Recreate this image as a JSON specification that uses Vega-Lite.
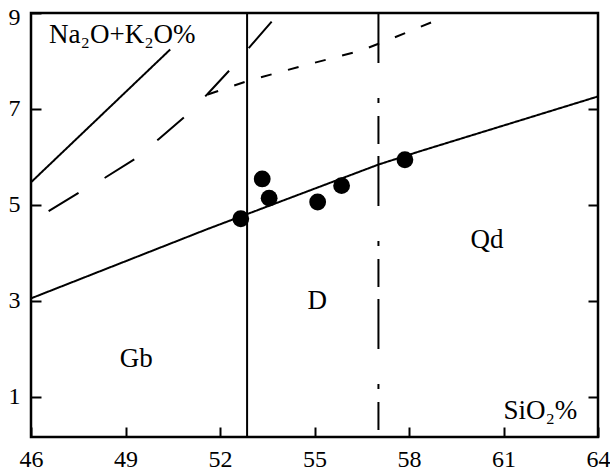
{
  "$schema": "https://vega.github.io/schema/vega-lite/v6.json",
  "width": 567,
  "height": 424,
  "autosize": {"type": "none"},
  "padding": {"left": 31, "top": 13, "right": 12, "bottom": 33},
  "background": "white",
  "config": {
    "view": {"stroke": "black", "strokeWidth": 2.5},
    "font": "Liberation Serif"
  },
  "datasets": {
    "lines": [
      {"id": "alk", "ord": 1, "x": 46.0, "y": 3.05},
      {"id": "alk", "ord": 2, "x": 51.58, "y": 4.49},
      {"id": "alk", "ord": 3, "x": 57.03, "y": 5.84},
      {"id": "alk", "ord": 4, "x": 58.36, "y": 6.12},
      {"id": "alk", "ord": 5, "x": 64.0, "y": 7.26},
      {"id": "up", "ord": 1, "x": 46.0, "y": 5.47},
      {"id": "up", "ord": 2, "x": 50.42, "y": 8.24},
      {"id": "ld", "ord": 1, "x": 46.56, "y": 4.87},
      {"id": "ld", "ord": 2, "x": 47.51, "y": 5.25},
      {"id": "ld", "ord": 3, "x": 48.36, "y": 5.57},
      {"id": "ld", "ord": 4, "x": 49.31, "y": 5.96},
      {"id": "ld", "ord": 5, "x": 50.05, "y": 6.37},
      {"id": "ld", "ord": 6, "x": 50.9, "y": 6.85},
      {"id": "ld", "ord": 7, "x": 51.59, "y": 7.3},
      {"id": "ld", "ord": 8, "x": 52.38, "y": 7.86},
      {"id": "ld", "ord": 9, "x": 53.02, "y": 8.35},
      {"id": "ld", "ord": 10, "x": 53.76, "y": 8.91},
      {"id": "ld", "ord": 11, "x": 53.85, "y": 9.0},
      {"id": "sd", "ord": 1, "x": 51.61, "y": 7.3},
      {"id": "sd", "ord": 2, "x": 52.86, "y": 7.58},
      {"id": "sd", "ord": 3, "x": 54.63, "y": 7.9},
      {"id": "sd", "ord": 4, "x": 56.45, "y": 8.21},
      {"id": "sd", "ord": 5, "x": 57.35, "y": 8.44},
      {"id": "sd", "ord": 6, "x": 59.1, "y": 8.91},
      {"id": "v1", "ord": 1, "x": 52.86, "y": 9.0},
      {"id": "v1", "ord": 2, "x": 52.86, "y": 0.16},
      {"id": "v2", "ord": 1, "x": 57.03, "y": 9.0},
      {"id": "v2", "ord": 2, "x": 57.03, "y": 0.16}
    ],
    "points": [
      {"x": 52.66, "y": 4.71},
      {"x": 53.34, "y": 5.54},
      {"x": 53.56, "y": 5.14},
      {"x": 55.1, "y": 5.06},
      {"x": 55.86, "y": 5.4},
      {"x": 57.87, "y": 5.94}
    ],
    "labels": [
      {"label": "Na₂O+K₂O%", "x": 48.9, "y": 8.38},
      {"label": "SiO₂%", "x": 62.17, "y": 0.53},
      {"label": "Gb", "x": 49.34, "y": 1.61},
      {"label": "D", "x": 55.09, "y": 2.82},
      {"label": "Qd", "x": 60.48, "y": 4.11}
    ]
  },
  "encoding": {
    "x": {
      "field": "x",
      "type": "quantitative",
      "scale": {"domain": [46, 64], "nice": false, "zero": false},
      "axis": {
        "orient": "bottom",
        "values": [46, 49, 52, 55, 58, 61, 64],
        "title": null,
        "grid": false,
        "domain": false,
        "tickSize": -10,
        "tickWidth": 2,
        "tickColor": "black",
        "labelFlush": false,
        "labelFont": "Liberation Serif",
        "labelFontSize": 24,
        "labelColor": "black",
        "labelPadding": 20
      }
    }
  },
  "layer": [
    {
      "data": {"name": "lines"},
      "mark": {"type": "line", "color": "black", "strokeWidth": 2, "clip": true},
      "encoding": {
        "y": {
          "field": "y",
          "type": "quantitative",
          "scale": {"domain": [0.16, 9], "nice": false, "zero": false},
          "axis": {
            "orient": "left",
            "values": [1, 3, 5, 7, 9],
            "title": null,
            "grid": false,
            "domain": false,
            "tickSize": -10,
            "tickWidth": 2,
            "tickColor": "black",
            "labelFlush": true,
            "labelFlushOffset": 8,
            "labelFont": "Liberation Serif",
            "labelFontSize": 24,
            "labelColor": "black",
            "labelPadding": 21
          }
        },
        "strokeDash": {
          "field": "id",
          "type": "nominal",
          "scale": {
            "domain": ["alk", "up", "ld", "sd", "v1", "v2"],
            "range": [[1, 0], [1, 0], [35, 30], [11, 17], [1, 0], [50, 35, 5, 13, 28, 12]]
          },
          "legend": null
        },
        "order": {"field": "ord", "type": "quantitative"}
      }
    },
    {
      "data": {"name": "points"},
      "mark": {"type": "circle", "color": "black", "opacity": 1, "size": 283},
      "encoding": {
        "y": {
          "field": "y",
          "type": "quantitative",
          "scale": {"domain": [0.16, 9], "nice": false, "zero": false},
          "axis": {
            "orient": "right",
            "values": [1, 3, 5, 7],
            "title": null,
            "grid": false,
            "domain": false,
            "labels": false,
            "tickSize": -10,
            "tickWidth": 2,
            "tickColor": "black"
          }
        }
      }
    },
    {
      "data": {"name": "labels"},
      "mark": {"type": "text", "font": "Liberation Serif", "fontSize": 27, "color": "black", "align": "center", "baseline": "alphabetic"},
      "encoding": {
        "y": {
          "field": "y",
          "type": "quantitative",
          "scale": {"domain": [0.16, 9], "nice": false, "zero": false},
          "axis": null
        },
        "text": {"field": "label"}
      }
    }
  ],
  "resolve": {"axis": {"y": "independent"}}
}
